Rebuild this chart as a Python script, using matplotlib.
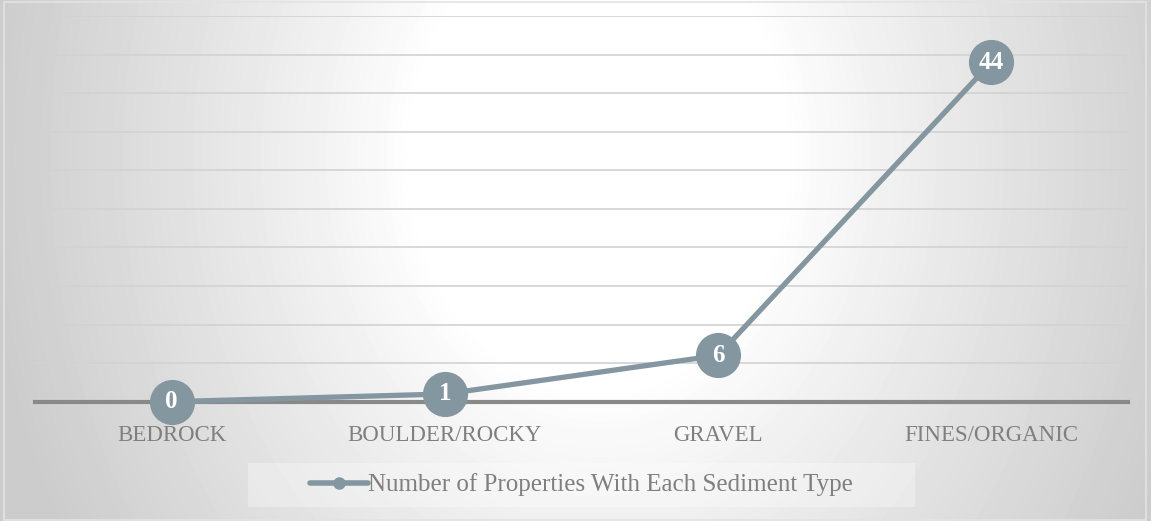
import numpy as np
import matplotlib
matplotlib.use("Agg")
import matplotlib.pyplot as plt
from matplotlib.lines import Line2D
from matplotlib.patches import Rectangle

categories = ["BEDROCK", "BOULDER/ROCKY", "GRAVEL", "FINES/ORGANIC"]
values = [0, 1, 6, 44]
series_name = "Number of Properties With Each Sediment Type"

W, H = 1151, 521
fig = plt.figure(figsize=(W / 100, H / 100), dpi=100)

# radial gradient background
bg = fig.add_axes([0, 0, 1, 1], zorder=-10)
yy, xx = np.mgrid[0:H, 0:W]
cx, cy = 0.52 * W, 0.30 * H
r = np.sqrt(((xx - cx) / (0.58 * W)) ** 2 + ((yy - cy) / (1.6 * H)) ** 2)
t = np.clip((r - 0.28) / 0.64, 0, 1)
val = 1.0 - t ** 0.9 * (1.0 - 0.80)
bg.imshow(val, cmap="gray", vmin=0, vmax=1, aspect="auto", extent=[0, 1, 0, 1], interpolation="bilinear")
bg.set_xlim(0, 1)
bg.set_ylim(0, 1)
bg.axis("off")
bg.add_patch(Rectangle((4 / W, 1 / H), (W - 9) / W, (H - 3) / H, fill=False, edgecolor="#e3e3e3", lw=1.2))

ax = fig.add_axes([35 / W, 119.3 / H, 1093 / W, (401.7 - 16) / H])
ax.set_facecolor("none")
x = np.arange(len(categories))
color = "#8496a0"
ax.plot(x, values, color=color, lw=3.8, marker="o", markersize=32.5, markeredgewidth=0,
        clip_on=False, zorder=5, solid_capstyle="round")
for xi, v in zip(x, values):
    ax.text(xi, v, str(v), ha="center", va="center", color="white", fontsize=18,
            fontweight="bold", family="Liberation Serif", zorder=6)

ax.set_xlim(-0.5, len(categories) - 0.5)
ax.set_ylim(0, 50)
ax.set_yticks(np.arange(0, 51, 5))
ax.yaxis.grid(True, color="#d2d2d2", lw=1.2)
ax.set_axisbelow(True)
ax.tick_params(axis="y", left=False, labelleft=False)
ax.set_xticks(x)
ax.set_xticklabels(categories, fontsize=16.5, color="#7f7f7f", family="Liberation Serif")
ax.tick_params(axis="x", bottom=False, pad=13)
for s in ["top", "left", "right"]:
    ax.spines[s].set_visible(False)
ax.spines["bottom"].set_color("#898989")
ax.spines["bottom"].set_linewidth(3)
ax.spines["bottom"].set_zorder(3)

# legend box
fig.patches.append(Rectangle((248 / W, (H - 507) / H), (915 - 248) / W, 44 / H,
                             transform=fig.transFigure, facecolor="white", alpha=0.3,
                             edgecolor="none", zorder=0))
handle = Line2D([], [], color=color, lw=4, marker="o", markersize=8, solid_capstyle="round")
leg = fig.legend([handle], [series_name], loc="center", bbox_to_anchor=(581.5 / W, (H - 485) / H),
                 frameon=False, handlelength=2.3, handletextpad=0.0,
                 prop={"family": "Liberation Serif", "size": 18})
for txt in leg.get_texts():
    txt.set_color("#7f7f7f")

fig.savefig("out.png", dpi=100)
